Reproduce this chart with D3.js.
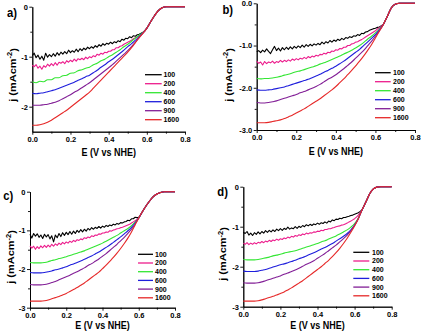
<!DOCTYPE html>
<html>
<head>
<meta charset="utf-8">
<script src="https://cdn.jsdelivr.net/npm/d3@7"></script>
<style>
  body { margin: 0; background: #fff; }
  svg { display: block; }
</style>
</head>
<body>
<div id="chart"></div>
<script>
// rotation rates (rpm) and their colours
const RPM = ["100", "200", "400", "600", "900", "1600"];
const COLORS = ["#000000", "#ec1c8c", "#33e633", "#1e1edc", "#821e96", "#e62828"];

const X_TICKS = [0, 0.2, 0.4, 0.6, 0.8];
const X_MINOR = [0.1, 0.3, 0.5, 0.7];
const Y_TICKS_A = [0, -1, -2];
const Y_MINOR_A = [-0.5, -1.5];
const Y_TICKS = [0, -1, -2, -3];
const Y_MINOR = [-0.5, -1.5, -2.5];

// potential grids (V vs NHE): fine one for the noisy low-rpm scans
const E_FINE = [0, 0.01, 0.02, 0.03, 0.04, 0.05, 0.06, 0.07, 0.08, 0.09,
  0.1, 0.11, 0.12, 0.13, 0.14, 0.15, 0.16, 0.17, 0.18, 0.19,
  0.2, 0.21, 0.22, 0.23, 0.24, 0.25, 0.26, 0.27, 0.28, 0.29,
  0.3, 0.31, 0.32, 0.33, 0.34, 0.35, 0.36, 0.37, 0.38, 0.39,
  0.4, 0.41, 0.42, 0.43, 0.44, 0.45, 0.46, 0.47, 0.48, 0.49,
  0.5, 0.51, 0.52, 0.53, 0.54, 0.55, 0.56, 0.57, 0.58, 0.59,
  0.6, 0.61, 0.62, 0.63, 0.64, 0.65, 0.66, 0.67, 0.68, 0.69,
  0.7, 0.71, 0.72, 0.73, 0.74, 0.75, 0.76, 0.77, 0.78, 0.79, 0.8];
const E_COARSE = [0, 0.02, 0.04, 0.06, 0.08, 0.1, 0.12, 0.14, 0.16, 0.18,
  0.2, 0.22, 0.24, 0.26, 0.28, 0.3, 0.32, 0.34, 0.36, 0.38,
  0.4, 0.42, 0.44, 0.46, 0.48, 0.5, 0.52, 0.54, 0.56, 0.58,
  0.6, 0.62, 0.64, 0.66, 0.68, 0.7, 0.72, 0.74, 0.76, 0.78, 0.8];

// ---- panel a) current density j (mA/cm2)
const A_100 = [-0.98, -0.93, -1.02, -0.97, -1.05, -0.99, -1.07, -0.93, -1.01, -0.96,
  -1.00, -0.94, -0.99, -0.92, -0.97, -0.91, -0.95, -0.90, -0.94, -0.87,
  -0.92, -0.88, -0.91, -0.85, -0.90, -0.84, -0.88, -0.83, -0.86, -0.81,
  -0.84, -0.80, -0.83, -0.78, -0.81, -0.76, -0.79, -0.74, -0.77, -0.73,
  -0.75, -0.71, -0.74, -0.70, -0.72, -0.68, -0.70, -0.65, -0.67, -0.63,
  -0.64, -0.60, -0.62, -0.58, -0.59, -0.56, -0.55, -0.53, -0.51, -0.48,
  -0.43, -0.37, -0.30, -0.24, -0.18, -0.13, -0.08, -0.05, -0.02, -0.01,
  0, 0, 0, 0, 0, 0, 0, 0, 0, 0, 0];
const A_200 = [-1.17, -1.20, -1.16, -1.23, -1.19, -1.25, -1.18, -1.21, -1.15, -1.19,
  -1.14, -1.18, -1.12, -1.17, -1.11, -1.13, -1.10, -1.14, -1.08, -1.11,
  -1.07, -1.10, -1.05, -1.09, -1.04, -1.06, -1.03, -1.06, -1.01, -1.04,
  -1.00, -1.02, -0.98, -1.00, -0.95, -0.97, -0.93, -0.95, -0.91, -0.92,
  -0.89, -0.89, -0.86, -0.86, -0.82, -0.82, -0.79, -0.78, -0.75, -0.73,
  -0.71, -0.69, -0.67, -0.64, -0.62, -0.60, -0.58, -0.55, -0.52, -0.48,
  -0.43, -0.37, -0.30, -0.24, -0.18, -0.13, -0.08, -0.05, -0.02, -0.01,
  0, 0, 0, 0, 0, 0, 0, 0, 0, 0, 0];
const A_400 = [-1.50, -1.52, -1.49, -1.50, -1.46, -1.46, -1.42, -1.42, -1.38, -1.37,
  -1.33, -1.32, -1.28, -1.26, -1.23, -1.21, -1.16, -1.13, -1.08, -1.05,
  -1.00, -0.96, -0.91, -0.86, -0.80, -0.75, -0.69, -0.63, -0.57, -0.51,
  -0.43, -0.30, -0.18, -0.08, -0.02, 0, 0, 0, 0, 0, 0];
const A_600 = [-1.73, -1.74, -1.73, -1.72, -1.70, -1.68, -1.66, -1.63, -1.60, -1.57,
  -1.54, -1.51, -1.47, -1.44, -1.40, -1.37, -1.32, -1.27, -1.21, -1.16,
  -1.10, -1.05, -0.99, -0.93, -0.87, -0.80, -0.74, -0.67, -0.60, -0.52,
  -0.43, -0.30, -0.18, -0.08, -0.02, 0, 0, 0, 0, 0, 0];
const A_900 = [-1.97, -1.97, -1.97, -1.96, -1.95, -1.93, -1.91, -1.88, -1.84, -1.80,
  -1.76, -1.71, -1.67, -1.62, -1.57, -1.52, -1.46, -1.40, -1.34, -1.28,
  -1.22, -1.16, -1.09, -1.02, -0.95, -0.88, -0.80, -0.71, -0.62, -0.53,
  -0.43, -0.30, -0.18, -0.08, -0.02, 0, 0, 0, 0, 0, 0];
const A_1600 = [-2.37, -2.37, -2.36, -2.34, -2.31, -2.27, -2.22, -2.17, -2.12, -2.07,
  -2.01, -1.95, -1.89, -1.83, -1.77, -1.71, -1.63, -1.55, -1.47, -1.39,
  -1.31, -1.23, -1.15, -1.07, -0.99, -0.91, -0.82, -0.72, -0.62, -0.53,
  -0.43, -0.30, -0.18, -0.08, -0.02, 0, 0, 0, 0, 0, 0];

// ---- panel b)
const B_100 = [-1.15, -1.12, -1.17, -1.11, -1.15, -1.08, -1.14, -1.19, -1.10, -1.02,
  -1.12, -1.06, -1.13, -1.05, -1.10, -1.04, -1.09, -1.03, -1.08, -1.02,
  -1.06, -1.01, -1.05, -0.99, -1.04, -0.98, -1.02, -0.97, -1.01, -0.96,
  -0.99, -0.95, -0.98, -0.92, -0.96, -0.91, -0.94, -0.88, -0.92, -0.87,
  -0.90, -0.85, -0.88, -0.83, -0.86, -0.81, -0.83, -0.79, -0.81, -0.77,
  -0.78, -0.74, -0.76, -0.71, -0.72, -0.68, -0.67, -0.64, -0.62, -0.60,
  -0.59, -0.57, -0.56, -0.53, -0.50, -0.41, -0.31, -0.20, -0.11, -0.05,
  -0.02, -0.01, 0, 0, 0, 0, 0, 0, 0, 0, 0];
const B_200 = [-1.37, -1.42, -1.39, -1.46, -1.38, -1.43, -1.39, -1.41, -1.37, -1.42,
  -1.38, -1.40, -1.35, -1.39, -1.35, -1.38, -1.34, -1.37, -1.32, -1.35,
  -1.31, -1.34, -1.30, -1.32, -1.28, -1.31, -1.26, -1.29, -1.25, -1.27,
  -1.23, -1.25, -1.21, -1.22, -1.18, -1.20, -1.16, -1.17, -1.13, -1.14,
  -1.10, -1.11, -1.07, -1.08, -1.04, -1.04, -1.00, -1.00, -0.96, -0.95,
  -0.92, -0.91, -0.88, -0.86, -0.83, -0.80, -0.77, -0.74, -0.71, -0.68,
  -0.65, -0.61, -0.58, -0.54, -0.50, -0.41, -0.31, -0.20, -0.11, -0.05,
  -0.02, -0.01, 0, 0, 0, 0, 0, 0, 0, 0, 0];
const B_400 = [-1.78, -1.79, -1.78, -1.78, -1.77, -1.75, -1.73, -1.70, -1.68, -1.65,
  -1.62, -1.60, -1.57, -1.54, -1.51, -1.48, -1.44, -1.41, -1.37, -1.33,
  -1.29, -1.25, -1.20, -1.16, -1.11, -1.06, -1.00, -0.93, -0.85, -0.78,
  -0.70, -0.61, -0.50, -0.31, -0.11, -0.02, 0, 0, 0, 0, 0];
const B_600 = [-2.05, -2.06, -2.06, -2.05, -2.04, -2.02, -2.00, -1.98, -1.95, -1.92,
  -1.89, -1.86, -1.83, -1.80, -1.76, -1.72, -1.68, -1.63, -1.59, -1.54,
  -1.49, -1.43, -1.37, -1.30, -1.23, -1.16, -1.09, -1.00, -0.92, -0.83,
  -0.74, -0.63, -0.50, -0.31, -0.11, -0.02, 0, 0, 0, 0, 0];
const B_900 = [-2.35, -2.36, -2.36, -2.35, -2.33, -2.31, -2.28, -2.25, -2.22, -2.19,
  -2.16, -2.12, -2.09, -2.05, -2.01, -1.97, -1.92, -1.86, -1.80, -1.75,
  -1.69, -1.62, -1.55, -1.47, -1.39, -1.30, -1.21, -1.12, -1.01, -0.90,
  -0.78, -0.65, -0.50, -0.31, -0.11, -0.02, 0, 0, 0, 0, 0];
const B_1600 = [-2.83, -2.83, -2.83, -2.82, -2.80, -2.78, -2.76, -2.73, -2.69, -2.65,
  -2.60, -2.55, -2.50, -2.44, -2.38, -2.32, -2.26, -2.19, -2.12, -2.05,
  -1.97, -1.88, -1.79, -1.69, -1.59, -1.48, -1.37, -1.25, -1.12, -0.98,
  -0.82, -0.66, -0.50, -0.31, -0.11, -0.02, 0, 0, 0, 0, 0];

// ---- panel c)
const C_100 = [-1.10, -1.20, -1.08, -1.15, -1.09, -1.18, -1.12, -1.21, -1.10, -1.17,
  -1.11, -1.22, -1.14, -1.30, -1.12, -1.19, -1.08, -1.16, -1.06, -1.13,
  -1.05, -1.11, -1.03, -1.10, -1.02, -1.08, -1.00, -1.05, -0.98, -1.04,
  -0.97, -1.02, -0.95, -0.99, -0.93, -0.97, -0.92, -0.95, -0.90, -0.94,
  -0.89, -0.92, -0.87, -0.90, -0.86, -0.88, -0.84, -0.86, -0.82, -0.84,
  -0.80, -0.81, -0.78, -0.77, -0.74, -0.75, -0.70, -0.70, -0.66, -0.67,
  -0.66, -0.60, -0.52, -0.44, -0.37, -0.30, -0.24, -0.18, -0.13, -0.09,
  -0.06, -0.04, -0.02, -0.01, 0, 0, 0, 0, 0, 0, 0];
const C_200 = [-1.40, -1.46, -1.41, -1.49, -1.42, -1.47, -1.40, -1.45, -1.39, -1.44,
  -1.38, -1.43, -1.36, -1.41, -1.35, -1.39, -1.33, -1.37, -1.31, -1.35,
  -1.30, -1.33, -1.28, -1.31, -1.26, -1.29, -1.24, -1.26, -1.22, -1.24,
  -1.19, -1.21, -1.17, -1.19, -1.14, -1.16, -1.12, -1.13, -1.09, -1.10,
  -1.07, -1.07, -1.04, -1.05, -1.01, -1.02, -0.99, -0.98, -0.96, -0.95,
  -0.93, -0.92, -0.90, -0.88, -0.86, -0.84, -0.81, -0.78, -0.75, -0.72,
  -0.68, -0.60, -0.52, -0.44, -0.37, -0.30, -0.24, -0.18, -0.13, -0.09,
  -0.06, -0.04, -0.02, -0.01, 0, 0, 0, 0, 0, 0, 0];
const C_400 = [-1.83, -1.84, -1.84, -1.84, -1.83, -1.81, -1.78, -1.76, -1.73, -1.71,
  -1.68, -1.65, -1.62, -1.59, -1.56, -1.53, -1.49, -1.45, -1.41, -1.37,
  -1.33, -1.28, -1.23, -1.18, -1.13, -1.07, -1.01, -0.95, -0.88, -0.79,
  -0.68, -0.52, -0.37, -0.24, -0.13, -0.06, -0.02, 0, 0, 0, 0];
const C_600 = [-2.09, -2.10, -2.10, -2.10, -2.09, -2.07, -2.05, -2.02, -2.00, -1.97,
  -1.94, -1.90, -1.87, -1.83, -1.79, -1.75, -1.70, -1.66, -1.61, -1.56,
  -1.50, -1.44, -1.38, -1.31, -1.24, -1.17, -1.09, -1.01, -0.92, -0.81,
  -0.68, -0.52, -0.37, -0.24, -0.13, -0.06, -0.02, 0, 0, 0, 0];
const C_900 = [-2.40, -2.41, -2.41, -2.41, -2.40, -2.38, -2.35, -2.32, -2.28, -2.24,
  -2.20, -2.16, -2.11, -2.07, -2.02, -1.97, -1.91, -1.86, -1.80, -1.74,
  -1.67, -1.60, -1.52, -1.44, -1.36, -1.27, -1.18, -1.08, -0.97, -0.84,
  -0.68, -0.52, -0.37, -0.24, -0.13, -0.06, -0.02, 0, 0, 0, 0];
const C_1600 = [-2.83, -2.83, -2.83, -2.83, -2.82, -2.80, -2.77, -2.74, -2.71, -2.67,
  -2.63, -2.58, -2.53, -2.48, -2.42, -2.36, -2.29, -2.22, -2.15, -2.08,
  -1.99, -1.90, -1.80, -1.70, -1.59, -1.47, -1.34, -1.20, -1.04, -0.86,
  -0.68, -0.52, -0.37, -0.24, -0.13, -0.06, -0.02, 0, 0, 0, 0];

// ---- panel d)
const D_100 = [-1.14, -1.17, -1.12, -1.21, -1.16, -1.22, -1.15, -1.19, -1.13, -1.18,
  -1.12, -1.16, -1.10, -1.14, -1.09, -1.13, -1.08, -1.12, -1.06, -1.10,
  -1.05, -1.09, -1.04, -1.07, -1.01, -1.06, -1.03, -1.05, -1.00, -1.04,
  -0.99, -1.02, -0.97, -1.00, -0.95, -0.98, -0.94, -0.97, -0.93, -0.95,
  -0.91, -0.94, -0.90, -0.92, -0.88, -0.91, -0.86, -0.88, -0.83, -0.85,
  -0.81, -0.82, -0.79, -0.80, -0.77, -0.77, -0.75, -0.74, -0.72, -0.71,
  -0.69, -0.67, -0.65, -0.62, -0.58, -0.49, -0.39, -0.29, -0.19, -0.11,
  -0.06, -0.03, -0.01, 0, 0, 0, 0, 0, 0, 0, 0];
const D_200 = [-1.41, -1.44, -1.40, -1.45, -1.41, -1.44, -1.40, -1.43, -1.39, -1.41,
  -1.37, -1.40, -1.36, -1.38, -1.34, -1.37, -1.33, -1.35, -1.31, -1.34,
  -1.30, -1.32, -1.28, -1.30, -1.26, -1.28, -1.24, -1.26, -1.22, -1.24,
  -1.20, -1.22, -1.18, -1.20, -1.16, -1.18, -1.15, -1.16, -1.13, -1.14,
  -1.11, -1.12, -1.09, -1.10, -1.07, -1.07, -1.05, -1.05, -1.03, -1.02,
  -1.00, -0.99, -0.98, -0.96, -0.95, -0.93, -0.91, -0.88, -0.86, -0.83,
  -0.80, -0.76, -0.71, -0.65, -0.58, -0.49, -0.39, -0.29, -0.19, -0.11,
  -0.06, -0.03, -0.01, 0, 0, 0, 0, 0, 0, 0, 0];
const D_400 = [-1.82, -1.83, -1.83, -1.83, -1.82, -1.80, -1.78, -1.76, -1.73, -1.71,
  -1.69, -1.66, -1.64, -1.62, -1.60, -1.57, -1.54, -1.51, -1.48, -1.45,
  -1.42, -1.38, -1.35, -1.31, -1.27, -1.23, -1.18, -1.13, -1.08, -1.01,
  -0.92, -0.78, -0.58, -0.39, -0.19, -0.06, -0.01, 0, 0, 0, 0];
const D_600 = [-2.11, -2.12, -2.12, -2.12, -2.11, -2.09, -2.07, -2.04, -2.01, -1.98,
  -1.95, -1.93, -1.90, -1.87, -1.84, -1.80, -1.77, -1.73, -1.69, -1.65,
  -1.61, -1.56, -1.52, -1.47, -1.42, -1.36, -1.30, -1.24, -1.17, -1.08,
  -0.96, -0.80, -0.58, -0.39, -0.19, -0.06, -0.01, 0, 0, 0, 0];
const D_900 = [-2.40, -2.41, -2.41, -2.41, -2.40, -2.38, -2.35, -2.32, -2.29, -2.26,
  -2.23, -2.19, -2.16, -2.12, -2.08, -2.04, -1.99, -1.94, -1.90, -1.85,
  -1.79, -1.73, -1.67, -1.60, -1.53, -1.46, -1.38, -1.30, -1.21, -1.10,
  -0.96, -0.80, -0.58, -0.39, -0.19, -0.06, -0.01, 0, 0, 0, 0];
const D_1600 = [-2.86, -2.86, -2.86, -2.86, -2.85, -2.83, -2.80, -2.77, -2.74, -2.71,
  -2.67, -2.63, -2.58, -2.53, -2.47, -2.41, -2.35, -2.28, -2.21, -2.14,
  -2.07, -2.00, -1.92, -1.84, -1.75, -1.65, -1.54, -1.42, -1.29, -1.14,
  -0.98, -0.80, -0.58, -0.39, -0.19, -0.06, -0.01, 0, 0, 0, 0];

const FONT = '"Liberation Sans", Arial, sans-serif';
const SQUISH = 0.9;

// layout of the four panels (pixel positions in the 421x331 page)
const PANELS = [
    { label: "a)", data: [A_100, A_200, A_400, A_600, A_900, A_1600],
      x0: 32.3, x1: 185, yTop: 6.7, yBot: 131.7, yMin: -2.5, yTicks: Y_TICKS_A, yMinor: Y_MINOR_A, digits: 0,
      tag: [7, 16.5], yTitle: [15.5, 75], xTitleY: 155.5,
      legend: { x0: 145, x1: 161.7, tx: 163.5, y0: 74.7, dy: 9 } },
    { label: "b)", data: [B_100, B_200, B_400, B_600, B_900, B_1600],
      x0: 256.7, x1: 415, yTop: 3.3, yBot: 130, yMin: -3, yTicks: Y_TICKS, yMinor: Y_MINOR, digits: 1,
      tag: [222.5, 13.5], yTitle: [231.5, 75], xTitleY: 154.5,
      legend: { x0: 375, x1: 390.7, tx: 393, y0: 72.7, dy: 9 } },
    { label: "c)", data: [C_100, C_200, C_400, C_600, C_900, C_1600],
      x0: 30, x1: 175, yTop: 191.7, yBot: 307.7, yMin: -3, yTicks: Y_TICKS, yMinor: Y_MINOR, digits: 0,
      tag: [3.3, 200], yTitle: [14, 257], xTitleY: 328.5,
      legend: { x0: 138, x1: 153, tx: 155, y0: 254.3, dy: 8.7 } },
    { label: "d)", data: [D_100, D_200, D_400, D_600, D_900, D_1600],
      x0: 243.3, x1: 391.7, yTop: 186.7, yBot: 306.7, yMin: -3, yTicks: Y_TICKS, yMinor: Y_MINOR, digits: 0,
      tag: [217.3, 196], yTitle: [226, 254], xTitleY: 328.5,
      legend: { x0: 353.3, x1: 369.3, tx: 372, y0: 252.3, dy: 8.7 } }
];

const svg = d3.select("#chart").append("svg")
    .attr("width", 421)
    .attr("height", 331)
    .attr("font-family", FONT)
    .attr("font-weight", "bold");

const styleAxis = g => g
    .attr("font-family", FONT)
    .attr("font-weight", "bold")
    .attr("font-size", 7.5)
    .call(s => s.selectAll("line, path").attr("stroke", "#000").attr("stroke-width", 0.9));

PANELS.forEach(p => {
    const x = d3.scaleLinear().domain([0, 0.8]).range([p.x0, p.x1]);
    const y = d3.scaleLinear().domain([p.yMin, 0]).range([p.yBot, p.yTop]);
    const g = svg.append("g");

    // minor ticks
    g.append("g")
        .attr("transform", `translate(0,${p.yBot})`)
        .call(d3.axisBottom(x).tickValues(X_MINOR).tickSize(2).tickSizeOuter(0).tickFormat(""))
        .call(styleAxis);
    g.append("g")
        .attr("transform", `translate(${p.x0},0)`)
        .call(d3.axisLeft(y).tickValues(p.yMinor).tickSize(2).tickSizeOuter(0).tickFormat(""))
        .call(styleAxis);

    // major axes
    g.append("g")
        .attr("transform", `translate(0,${p.yBot})`)
        .call(d3.axisBottom(x).tickValues(X_TICKS).tickSize(3).tickSizeOuter(0).tickPadding(1.5)
            .tickFormat(d => d.toFixed(1)))
        .call(styleAxis);
    g.append("g")
        .attr("transform", `translate(${p.x0},0)`)
        .call(d3.axisLeft(y).tickValues(p.yTicks).tickSize(3).tickSizeOuter(0).tickPadding(1.5)
            .tickFormat(d => d.toFixed(p.digits)))
        .call(styleAxis);

    // curves
    const line = d3.line().x(d => x(d[0])).y(d => y(d[1]));
    p.data.forEach((vals, i) => {
        const grid = vals.length === E_FINE.length ? E_FINE : E_COARSE;
        const pts = grid.map((e, k) => [e, vals[k]]);
        g.append("path")
            .datum(pts)
            .attr("fill", "none")
            .attr("stroke", COLORS[i])
            .attr("stroke-width", 1.1)
            .attr("stroke-linejoin", "round")
            .attr("d", line.curve(i < 2 ? d3.curveLinear : d3.curveMonotoneX));
    });

    // legend
    const leg = g.append("g");
    RPM.forEach((r, i) => {
        const ly = p.legend.y0 + i * p.legend.dy;
        leg.append("line")
            .attr("x1", p.legend.x0).attr("x2", p.legend.x1)
            .attr("y1", ly).attr("y2", ly)
            .attr("stroke", COLORS[i])
            .attr("stroke-width", 1.3);
        leg.append("text")
            .attr("x", p.legend.tx).attr("y", ly)
            .attr("dy", "0.35em")
            .attr("font-size", 7)
            .text(r);
    });

    // panel tag
    g.append("text")
        .attr("transform", `translate(${p.tag[0]},${p.tag[1]}) scale(${SQUISH},1)`)
        .attr("font-size", 12.5)
        .text(p.label);

    // x title
    g.append("text")
        .attr("transform", `translate(${(p.x0 + p.x1) / 2},${p.xTitleY}) scale(${SQUISH},1)`)
        .attr("text-anchor", "middle")
        .attr("font-size", 10)
        .text("E (V vs NHE)");

    // y title with superscript
    const yt = g.append("text")
        .attr("transform", `translate(${p.yTitle[0]},${p.yTitle[1]}) scale(${SQUISH},1) rotate(-90)`)
        .attr("text-anchor", "middle")
        .attr("font-size", 11);
    yt.append("tspan").text("j (mAcm");
    yt.append("tspan").attr("dy", "-0.45em").attr("font-size", 7.5).text("-2");
    yt.append("tspan").attr("dy", "0.45em").text(")");
});
</script>
</body>
</html>
